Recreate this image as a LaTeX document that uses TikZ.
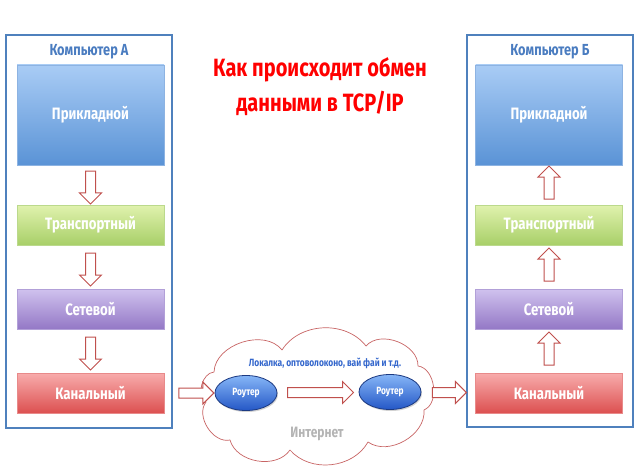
\documentclass[tikz,border=0pt]{standalone}
\usepackage{fontspec}
\newfontfamily\cond{Fira Sans}[FakeStretch=0.8]
\usetikzlibrary{shapes.geometric,shapes.arrows,shadows,calc}
\definecolor{frameblue}{HTML}{4F81BD}
\definecolor{titleblue}{HTML}{4A7CC0}
\definecolor{arrred}{HTML}{C0504D}
\definecolor{cloudred}{HTML}{C86464}
\definecolor{localblue}{HTML}{3366CC}
\definecolor{inetgray}{HTML}{B4B4B4}
\definecolor{appT}{HTML}{A9CCF5}
\definecolor{appB}{HTML}{5A93D6}
\definecolor{appD}{HTML}{8DB3E2}
\definecolor{trT}{HTML}{E0F2AE}
\definecolor{trB}{HTML}{A8CF68}
\definecolor{trD}{HTML}{BBD98C}
\definecolor{netT}{HTML}{D0C2EE}
\definecolor{netB}{HTML}{9478C6}
\definecolor{netD}{HTML}{B2A0D8}
\definecolor{lkT}{HTML}{F8ACAC}
\definecolor{lkB}{HTML}{DC5050}
\definecolor{lkD}{HTML}{E88A8A}
\definecolor{rtT}{HTML}{86B6F7}
\definecolor{rtB}{HTML}{2457C6}
\definecolor{rtD}{HTML}{1C3A82}
\tikzset{
  frame/.style={draw=frameblue, line width=1.5pt},
  comptitle/.style={text=titleblue, font=\cond\bfseries\fontsize{16}{18}\selectfont},
  layer/.style={minimum width=147pt, inner sep=0pt, text=white,
     font=\cond\bfseries\fontsize{16.5}{18}\selectfont, line width=0.5pt,
     drop shadow={opacity=0.25, shadow xshift=0.8pt, shadow yshift=-1.2pt}},
  applayer/.style={layer, minimum height=100pt, top color=appT, bottom color=appB, draw=appD},
  trlayer/.style={layer, minimum height=40pt, top color=trT, bottom color=trB, draw=trD},
  netlayer/.style={layer, minimum height=40pt, top color=netT, bottom color=netB, draw=netD},
  linklayer/.style={layer, minimum height=40pt, top color=lkT, bottom color=lkB, draw=lkD},
  blockarrow/.style={single arrow, draw=arrred, fill=white, line width=1pt,
     text height=9pt, text depth=0pt, text width=0pt, single arrow head extend=6pt, inner sep=0pt,
     single arrow tip angle=90},
  router/.style={ellipse, minimum width=62pt, minimum height=35pt, inner sep=0pt,
     top color=rtT, bottom color=rtB, draw=rtD, line width=0.8pt, text=white,
     font=\cond\bfseries\fontsize{10.5}{11}\selectfont,
     drop shadow={opacity=0.35, shadow xshift=1pt, shadow yshift=-1.5pt}},
  cloudline/.style={draw=cloudred, line width=0.7pt, fill=white, line join=round}
}
\begin{document}
\begin{tikzpicture}[x=1pt,y=-1pt]
\useasboundingbox (0,0) rectangle (640,468);
% frames
\draw[frame] (6,35) rectangle (172,428);
\draw[frame] (467,35) rectangle (633,427);
\node[comptitle] (tA) at (89,52) {Компьютер А};
\node[comptitle] (tB) at (550,52) {Компьютер Б};
% title
\node[text=red, align=center, font=\cond\fontsize{25}{35}\selectfont\bfseries] (title) at (320,87)
  {Как происходит обмен\\данными в TCP/IP};
% left stack
\node[applayer] (a1) at (90.5,115) {Прикладной};
\node[trlayer] (a2) at (90.5,225) {Транспортный};
\node[netlayer] (a3) at (90.5,309) {Сетевой};
\node[linklayer] (a4) at (90.5,393) {Канальный};
% right stack
\node[applayer] (b1) at (549,115) {Прикладной};
\node[trlayer] (b2) at (549,225) {Транспортный};
\node[netlayer] (b3) at (549,309) {Сетевой};
\node[linklayer] (b4) at (549,393) {Канальный};
% vertical arrows
\node[blockarrow, minimum height=33pt, rotate=-90] (da1) at ($(a1.south)!0.5!(a2.north)$) {};
\node[blockarrow, minimum height=33pt, rotate=-90] (da2) at ($(a2.south)!0.5!(a3.north)$) {};
\node[blockarrow, minimum height=33pt, rotate=-90] (da3) at ($(a3.south)!0.5!(a4.north)$) {};
\node[blockarrow, minimum height=33pt, rotate=90] (ua1) at ($(b2.north)!0.5!(b1.south)$) {};
\node[blockarrow, minimum height=33pt, rotate=90] (ua2) at ($(b3.north)!0.5!(b2.south)$) {};
\node[blockarrow, minimum height=33pt, rotate=90] (ua3) at ($(b4.north)!0.5!(b3.south)$) {};
% cloud (drawn shape)
\path[cloudline] (214,372) to[bend left=70] (282,350) to[bend left=55] (366,346)
  to[bend left=70] (418,366) to[bend left=75] (424,410) to[bend left=65] (368,442)
  to[bend left=55] (290,450) to[bend left=65] (230,440) to[bend left=70] (206,402)
  to[bend left=70] cycle;
\node[text=localblue, font=\cond\bfseries\fontsize{10.5}{12}\selectfont] (local) at (325,363)
  {Локалка, оптоволоконо, вай фай и т.д.};
\node[text=inetgray, font=\cond\bfseries\fontsize{15}{16}\selectfont] (inet) at (317,434) {Интернет};
% routers
\node[router] (r1) at (246,393) {Роутер};
\node[router] (r2) at (390,392) {Роутер};
% horizontal arrows
\node[blockarrow, minimum height=35pt] (h1) at ($($(a4.east)!0.5!(r1.west)$)+(4.5,0)$) {};
\node[blockarrow, minimum height=66pt] (h2) at ($(r1.east)!0.5!(r2.west)$) {};
\node[blockarrow, minimum height=34pt] (h3) at ($($(r2.east)!0.5!(b4.west)$)+(-1.5,0)$) {};
\end{tikzpicture}
\end{document}
